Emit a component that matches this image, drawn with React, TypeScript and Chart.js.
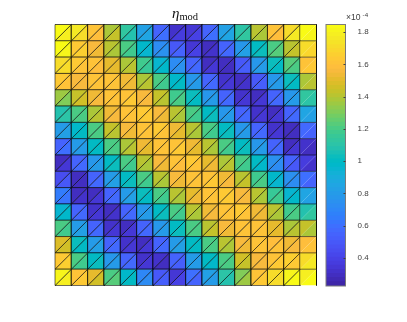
import React, { useEffect, useRef } from "react";
import { Chart, registerables } from "chart.js";

Chart.register(...registerables);

const upperTriangles = [
  [1.83,1.75,1.60,1.38,1.12,.82,.55,.32,.35,.55,.82,1.10,1.40,1.60,1.72,1.83],
  [1.83,1.62,1.55,1.40,1.20,.98,.72,.50,.35,.30,.55,.78,1.00,1.20,1.40,1.72],
  [1.72,1.62,1.60,1.50,1.38,1.17,.95,.72,.55,.30,.28,.50,.78,1.02,1.22,1.60],
  [1.62,1.55,1.60,1.60,1.53,1.38,1.20,.98,.78,.55,.32,.30,.50,.78,1.02,1.38],
  [1.35,1.42,1.52,1.60,1.60,1.55,1.42,1.18,1.02,.78,.55,.32,.30,.55,.78,1.12],
  [1.08,1.20,1.38,1.53,1.60,1.62,1.55,1.40,1.20,1.00,.78,.55,.32,.30,.55,.85],
  [.80,.98,1.20,1.42,1.55,1.60,1.62,1.52,1.40,1.20,1.00,.78,.55,.32,.28,.58],
  [.55,.80,1.00,1.20,1.38,1.53,1.60,1.60,1.52,1.40,1.20,1.00,.78,.55,.30,.32],
  [.30,.55,.78,1.00,1.20,1.40,1.55,1.60,1.62,1.50,1.38,1.20,1.00,.75,.55,.36],
  [.45,.28,.55,.80,1.00,1.20,1.40,1.55,1.60,1.60,1.52,1.40,1.17,.98,.75,.60],
  [.65,.30,.30,.55,.80,1.02,1.20,1.40,1.50,1.60,1.62,1.55,1.40,1.15,.95,.85],
  [.95,.55,.32,.30,.55,.78,1.00,1.20,1.40,1.52,1.60,1.62,1.53,1.40,1.17,1.08],
  [1.20,.80,.55,.32,.30,.55,.78,1.00,1.20,1.40,1.55,1.60,1.60,1.50,1.38,1.42],
  [1.48,1.02,.80,.55,.32,.30,.55,.80,1.00,1.20,1.40,1.55,1.60,1.58,1.52,1.58],
  [1.62,1.20,1.00,.78,.55,.32,.32,.55,.80,1.00,1.20,1.45,1.55,1.60,1.65,1.72],
  [1.80,1.60,1.50,1.20,.98,.70,.50,.35,.60,.82,1.10,1.30,1.60,1.70,1.80,1.78],
];

const lowerTriangles = [
  [1.78,1.72,1.58,1.42,1.08,.85,.60,.36,.38,.60,.85,1.12,1.38,1.58,1.75,1.80],
  [1.80,1.65,1.52,1.38,1.17,.95,.75,.55,.38,.32,.58,.82,1.02,1.22,1.42,1.68],
  [1.70,1.60,1.58,1.50,1.40,1.15,.98,.75,.58,.33,.30,.52,.80,1.00,1.20,1.62],
  [1.60,1.55,1.60,1.60,1.53,1.40,1.17,1.00,.80,.58,.35,.32,.53,.80,1.00,1.40],
  [1.30,1.45,1.55,1.60,1.62,1.55,1.40,1.20,1.00,.80,.58,.35,.33,.58,.80,1.10],
  [1.10,1.20,1.40,1.55,1.60,1.62,1.52,1.38,1.18,1.02,.80,.58,.35,.33,.58,.82],
  [.82,1.00,1.20,1.40,1.52,1.60,1.60,1.50,1.38,1.18,1.02,.80,.58,.35,.30,.55],
  [.60,.80,1.00,1.20,1.40,1.50,1.60,1.62,1.50,1.38,1.18,1.02,.80,.58,.33,.30],
  [.33,.58,.80,1.02,1.18,1.38,1.52,1.58,1.60,1.52,1.40,1.18,.98,.72,.50,.32],
  [.48,.30,.58,.82,1.02,1.18,1.38,1.52,1.60,1.62,1.55,1.42,1.20,.95,.72,.55],
  [.62,.32,.33,.58,.82,1.00,1.18,1.38,1.53,1.60,1.62,1.55,1.38,1.17,.98,.82],
  [.98,.58,.35,.32,.58,.80,1.02,1.18,1.38,1.55,1.60,1.60,1.53,1.38,1.20,1.12],
  [1.18,.82,.58,.35,.33,.58,.80,1.02,1.20,1.42,1.53,1.60,1.60,1.50,1.40,1.38],
  [1.45,1.00,.82,.58,.35,.33,.58,.82,1.00,1.20,1.38,1.52,1.60,1.60,1.55,1.60],
  [1.65,1.18,1.02,.80,.58,.35,.30,.52,.80,.98,1.20,1.42,1.55,1.62,1.62,1.75],
  [1.78,1.62,1.45,1.22,1.00,.72,.52,.38,.55,.80,1.08,1.35,1.62,1.72,1.83,1.83],
];

const colorTicks = [0.4, 0.6, 0.8, 1, 1.2, 1.4, 1.6, 1.8];
const colorMin = 0.226;
const colorMax = 1.848;

const parula: number[][] = [
  [.2422,.1504,.6603],[.2504,.1650,.7076],[.2578,.1818,.7511],[.2647,.1978,.7952],
  [.2706,.2147,.8364],[.2751,.2342,.8710],[.2783,.2559,.8991],[.2803,.2782,.9221],
  [.2813,.3006,.9414],[.2810,.3228,.9579],[.2795,.3447,.9717],[.2760,.3667,.9829],
  [.2699,.3892,.9906],[.2602,.4123,.9952],[.2440,.4358,.9988],[.2206,.4603,.9973],
  [.1963,.4847,.9892],[.1834,.5074,.9798],[.1786,.5289,.9682],[.1764,.5499,.9520],
  [.1687,.5703,.9359],[.1540,.5902,.9218],[.1460,.6091,.9079],[.1380,.6276,.8973],
  [.1248,.6459,.8883],[.1113,.6635,.8763],[.0952,.6798,.8598],[.0689,.6948,.8394],
  [.0297,.7082,.8163],[.0036,.7203,.7917],[.0067,.7312,.7660],[.0433,.7411,.7394],
  [.0964,.7500,.7120],[.1408,.7584,.6842],[.1717,.7670,.6554],[.1938,.7758,.6251],
  [.2161,.7843,.5923],[.2470,.7918,.5567],[.2906,.7973,.5188],[.3406,.8008,.4789],
  [.3909,.8029,.4354],[.4456,.8024,.3909],[.5044,.7993,.3480],[.5616,.7942,.3045],
  [.6174,.7876,.2612],[.6720,.7793,.2227],[.7242,.7698,.1910],[.7738,.7598,.1646],
  [.8203,.7498,.1535],[.8634,.7406,.1596],[.9035,.7330,.1774],[.9393,.7288,.2100],
  [.9728,.7298,.2394],[.9956,.7434,.2371],[.9970,.7659,.2199],[.9952,.7893,.2028],
  [.9892,.8136,.1885],[.9786,.8386,.1766],[.9676,.8639,.1643],[.9610,.8890,.1537],
  [.9597,.9135,.1423],[.9628,.9373,.1265],[.9691,.9606,.1064],[.9769,.9839,.0805],
];

const toCss = (c: number[]) =>
  `rgb(${Math.round(c[0] * 255)},${Math.round(c[1] * 255)},${Math.round(c[2] * 255)})`;

const colorOf = (v: number) => {
  const i = Math.floor(((v - colorMin) / (colorMax - colorMin)) * parula.length);
  return toCss(parula[Math.max(0, Math.min(parula.length - 1, i))]);
};

const BOX = "#a0a0a0";

export default function App() {
  const meshRef = useRef<HTMLCanvasElement>(null);
  const barRef = useRef<HTMLCanvasElement>(null);

  useEffect(() => {
    const datasets: any[] = [];
    const tri = (pts: number[][], v: number) => ({
      type: "line",
      data: pts.map(([x, y]) => ({ x, y })),
      backgroundColor: colorOf(v),
      borderColor: "rgba(0,0,0,0.95)",
      borderWidth: 0.6,
      fill: "shape",
      pointRadius: 0,
      tension: 0,
      clip: false,
    });
    upperTriangles.forEach((row, r) =>
      row.forEach((v, c) => {
        datasets.push(tri([[c, r], [c + 1, r], [c, r + 1], [c, r]], v));
      }),
    );
    lowerTriangles.forEach((row, r) =>
      row.forEach((v, c) => {
        datasets.push(tri([[c + 1, r], [c + 1, r + 1], [c, r + 1], [c + 1, r]], v));
      }),
    );
    const n = upperTriangles.length;
    datasets.push({
      type: "line",
      data: [[0, 0], [n, 0], [n, n], [0, n], [0, 0]].map(([x, y]) => ({ x, y })),
      borderColor: BOX,
      borderWidth: 1,
      fill: false,
      pointRadius: 0,
      clip: false,
    });

    const mesh = new Chart(meshRef.current!, {
      type: "line",
      data: { datasets },
      options: {
        animation: false,
        responsive: false,
        parsing: false as any,
        normalized: true,
        layout: { padding: { left: 55, right: 90.5, top: 24.5, bottom: 36.5 } },
        plugins: { legend: { display: false }, tooltip: { enabled: false } },
        events: [],
        scales: {
          x: { type: "linear", min: 0, max: n, display: false },
          y: { type: "linear", min: 0, max: n, reverse: true, display: false },
        },
      },
    });

    const step = (colorMax - colorMin) / parula.length;
    const barSets = parula.map((c, i) => ({
      data: [[colorMin + i * step, colorMin + (i + 1) * step + (i < parula.length - 1 ? step * 0.1 : 0)]],
      backgroundColor: toCss(c),
      borderWidth: 0,
      barPercentage: 1,
      categoryPercentage: 1,
      grouped: false,
    }));

    const frame = {
      id: "frame",
      afterDatasetsDraw(chart: any) {
        const { ctx, chartArea: a, scales } = chart;
        ctx.save();
        ctx.strokeStyle = "#7a7a7a";
        ctx.lineWidth = 1;
        ctx.strokeRect(a.left, a.top, a.right - a.left, a.bottom - a.top);
        ctx.strokeStyle = "#404040";
        colorTicks.forEach((t) => {
          const y = Math.round(scales.y.getPixelForValue(t)) + 0.5;
          ctx.beginPath();
          ctx.moveTo(a.right - 2, y);
          ctx.lineTo(a.right, y);
          ctx.stroke();
        });
        ctx.restore();
      },
    };

    const bar = new Chart(barRef.current!, {
      type: "bar",
      data: { labels: ["c"], datasets: barSets as any },
      options: {
        animation: false,
        responsive: false,
        events: [],
        layout: { padding: { left: 326, top: 24.5, bottom: 36 } },
        plugins: { legend: { display: false }, tooltip: { enabled: false } },
        scales: {
          x: { display: false },
          y: {
            position: "right",
            min: colorMin,
            max: colorMax,
            afterBuildTicks: (s: any) => {
              s.ticks = colorTicks.map((value) => ({ value }));
            },
            afterFit: (s: any) => {
              s.width = 407 - 345.5;
            },
            grid: { display: false },
            border: { display: false },
            ticks: {
              color: "#404040",
              padding: 4,
              font: { family: "Liberation Sans", size: 8 },
              callback: (v: any) => String(v),
            },
          },
        },
      },
      plugins: [frame],
    });

    return () => {
      mesh.destroy();
      bar.destroy();
    };
  }, []);

  const abs: React.CSSProperties = { position: "absolute", left: 0, top: 0 };
  return (
    <div style={{ position: "fixed", left: 0, top: 0, width: 407, height: 322, background: "#fff", overflow: "hidden" }}>
      <canvas ref={meshRef} width={407} height={322} style={abs} />
      <canvas ref={barRef} width={407} height={322} style={abs} />
      <div style={{ position: "absolute", left: 172, top: 5, fontFamily: "Liberation Serif", fontSize: 13, lineHeight: "16px", color: "#111", whiteSpace: "nowrap" }}>
        <i style={{ fontSize: 15 }}>η</i>
        <span style={{ fontSize: 10.5, position: "relative", top: 2 }}>mod</span>
      </div>
      <div style={{ position: "absolute", left: 346, top: 12, fontFamily: "Liberation Sans", fontSize: 8.6, lineHeight: "10px", color: "#404040", whiteSpace: "nowrap" }}>
        ×10
        <span style={{ fontSize: 6.2, position: "relative", top: -3, left: 2 }}>-4</span>
      </div>
    </div>
  );
}
